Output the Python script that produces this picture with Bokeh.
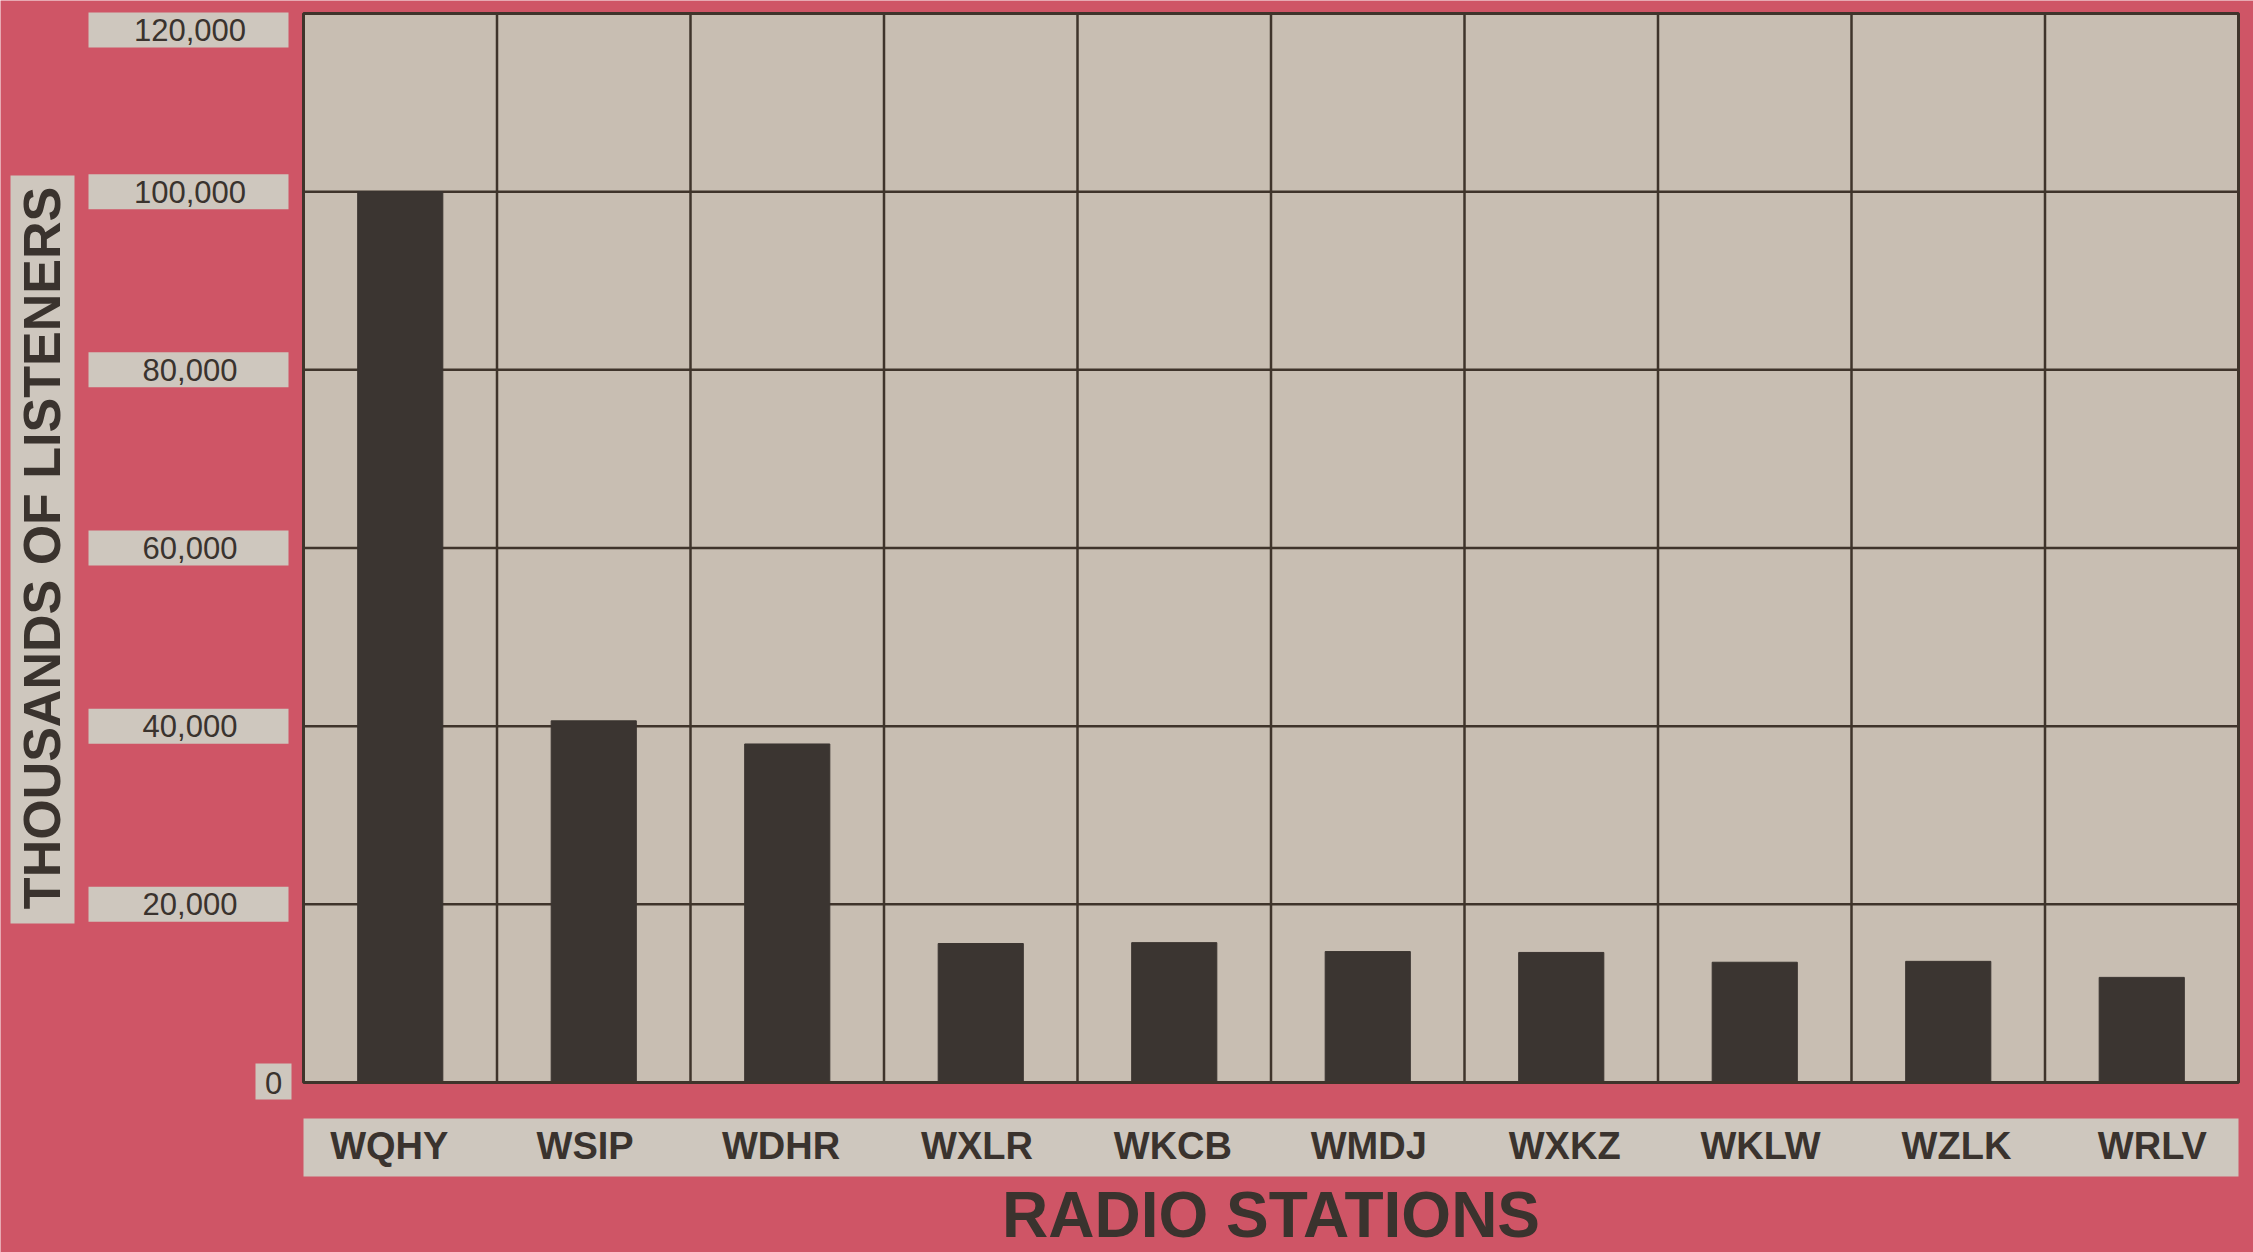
from bokeh.plotting import figure
from bokeh.models import Range1d, ColumnDataSource
from bokeh.core.properties import value
from bokeh.embed import file_html
from bokeh.resources import INLINE
import math

# ---- data ----
stations = ["WQHY", "WSIP", "WDHR", "WXLR", "WKCB", "WMDJ", "WXKZ", "WKLW", "WZLK", "WRLV"]
listeners = [100000, 40600, 38000, 15600, 15700, 14700, 14600, 13500, 13600, 11800]
y_ticks = [0, 20000, 40000, 60000, 80000, 100000, 120000]
y_title = "THOUSANDS OF LISTENERS"
x_title = "RADIO STATIONS"

# ---- styles ----
RED = "#cf5566"
BEIGE = "#c8beb2"
BOX = "#cec7be"
INK = "#3a332e"
BAR = "#3b3531"
LINE = "#3f342b"
FONT = value("Liberation Sans")

n = len(stations)
y_top = y_ticks[-1]
centers = [i + 0.5 for i in range(n)]          # one column per station
name_x = [c * 1.0124 - 0.063 for c in centers]  # names are spread a little wider than the columns
tick_labels = ["{:,}".format(t) for t in y_ticks]

# the frame covers the whole canvas; the chart's plotting area is x 0..n, y 0..y_top
p = figure(width=2253, height=1252,
           x_range=Range1d(-1.5659, 10.0775),
           y_range=Range1d(-19083, 121459),
           x_axis_location=None, y_axis_location=None,
           output_backend="svg", toolbar_location=None, min_border=0)
p.grid.visible = False
p.outline_line_color = None
p.background_fill_color = RED
p.border_fill_color = RED

# plotting area
p.quad(left=0, right=n, bottom=0, top=y_top, fill_color=BEIGE, line_color=None)

# grid lines
mid_ticks = y_ticks[1:-1]
p.segment(x0=0, x1=n, y0=mid_ticks, y1=mid_ticks, line_color=LINE, line_width=2.5)
bounds = list(range(1, n))
p.segment(x0=bounds, x1=bounds, y0=0, y1=y_top, line_color=LINE, line_width=2.5)

# bars
p.vbar(x=centers, top=listeners, width=0.44, fill_color=BAR, line_color=BAR)

# frame of the plotting area
p.quad(left=0, right=n, bottom=0, top=y_top, fill_color=None, line_color=LINE, line_width=3)

# ---- value labels with their boxes ----
HALF = 1964  # half box height in value units
mid_src = ColumnDataSource(dict(y=mid_ticks, text=tick_labels[1:-1]))
p.quad(left=-1.1111, right=-0.0775, bottom=[t - HALF for t in mid_ticks],
       top=[t + HALF for t in mid_ticks], fill_color=BOX, line_color=None)
p.text(x=-0.5866, y="y", text="text", source=mid_src, text_align="center",
       text_baseline="middle", text_font=FONT, text_font_size="31px", text_color=INK)

# top label sits just below its gridline
p.quad(left=-1.1111, right=-0.0775, bottom=116180, top=120110, fill_color=BOX, line_color=None)
p.text(x=-0.5866, y=118150, text=[tick_labels[-1]], text_align="center",
       text_baseline="middle", text_font=FONT, text_font_size="31px", text_color=INK)

# zero label has a small box next to the frame
p.quad(left=-0.2481, right=-0.0620, bottom=y_ticks[0] - 1908, top=y_ticks[0] + 2133,
       fill_color=BOX, line_color=None)
p.text(x=-0.155, y=y_ticks[0], text=[tick_labels[0]], text_align="center",
       text_baseline="middle", text_font=FONT, text_font_size="31px", text_color=INK)

# ---- y title ----
p.quad(left=-1.5142, right=-1.1835, bottom=17850, top=101820, fill_color=BOX, line_color=None)
p.text(x=-1.3514, y=60000, text=[y_title], angle=math.pi / 2, text_align="center",
       text_baseline="middle", text_font=FONT, text_font_size="52px",
       text_font_style="bold", text_color=INK)

# ---- station names band ----
p.quad(left=0, right=n, bottom=-10552, top=-4041, fill_color=BOX, line_color=None)
p.text(x=name_x, y=-7128, text=stations, text_align="center", text_baseline="middle",
       text_font=FONT, text_font_size="38px", text_font_style="bold", text_color=INK)

# ---- x title ----
p.text(x=n / 2, y=-14818, text=[x_title], text_align="center", text_baseline="middle",
       text_font=FONT, text_font_size="64px", text_font_style="bold", text_color=INK)

open("out.html", "w").write(file_html(p, INLINE))
